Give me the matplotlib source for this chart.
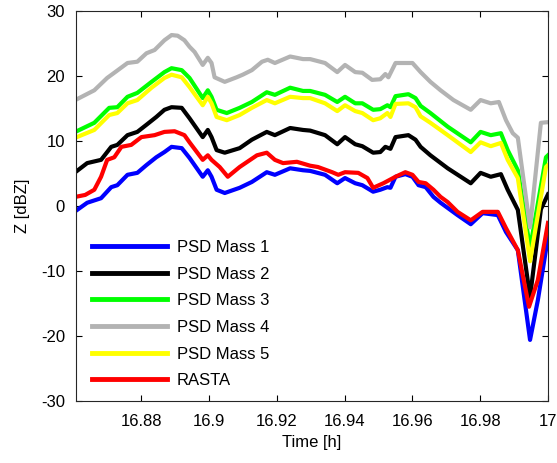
import matplotlib
matplotlib.use("Agg")
import matplotlib.pyplot as plt

plt.rcParams.update({
    "font.family": ["Liberation Sans", "DejaVu Sans"],
    "font.size": 12,
    "axes.unicode_minus": False,
    "xtick.direction": "in",
    "ytick.direction": "in",
    "xtick.top": True,
    "ytick.right": True,
    "xtick.major.size": 4,
    "ytick.major.size": 4,
    "axes.linewidth": 0.8,
})

# ---- data ----
t_gray = [16.8605, 16.8661, 16.8699, 16.8720, 16.8759, 16.8788, 16.8815, 16.8839,
          16.8868, 16.8889, 16.8907, 16.8927, 16.8942, 16.8957, 16.8981, 16.8996,
          16.9007, 16.9016, 16.9046, 16.9081, 16.9099, 16.9126, 16.9156, 16.9173,
          16.9194, 16.9239, 16.9277, 16.9298, 16.9342, 16.9378, 16.9401, 16.9431,
          16.9452, 16.9481, 16.9505, 16.9520, 16.9529, 16.9550, 16.9579, 16.9600,
          16.9624, 16.9653, 16.9683, 16.9721, 16.9772, 16.9801, 16.9831, 16.9855,
          16.9876, 16.9896, 16.9911, 16.9947, 16.9979, 17.0]
z_mass4 = [16.3, 17.8, 19.7, 20.5, 22.0, 22.2, 23.5, 24.0,
           25.5, 26.3, 26.2, 25.5, 24.5, 23.7, 21.7, 22.8,
           22.0, 19.8, 19.1, 19.8, 20.2, 20.9, 22.2, 22.5,
           22.0, 23.0, 22.6, 22.6, 22.0, 20.6, 21.7, 20.6,
           20.5, 19.4, 19.5, 20.3, 19.8, 22.0, 22.0, 22.0,
           20.6, 19.1, 17.8, 16.3, 14.8, 16.3, 15.8, 16.0,
           13.2, 11.2, 10.5, -3.3, 12.8, 12.9]

t_green = [16.8605, 16.8661, 16.8705, 16.8729, 16.8759, 16.8788, 16.8830, 16.8868,
           16.8889, 16.8919, 16.8942, 16.8981, 16.8996, 16.9007, 16.9022, 16.9052,
           16.9090, 16.9126, 16.9170, 16.9194, 16.9239, 16.9277, 16.9298, 16.9342,
           16.9378, 16.9401, 16.9431, 16.9452, 16.9484, 16.9505, 16.9526, 16.9535,
           16.9550, 16.9588, 16.9609, 16.9624, 16.9653, 16.9704, 16.9772, 16.9801,
           16.9831, 16.9861, 16.9881, 16.9911, 16.9947, 16.9994, 17.0]
z_mass3 = [11.4, 12.8, 15.1, 15.2, 16.8, 17.4, 19.1, 20.6,
           21.2, 20.9, 19.7, 16.6, 17.8, 16.8, 14.8, 14.3,
           15.1, 16.0, 17.5, 17.1, 18.2, 17.7, 17.7, 17.1,
           16.0, 16.8, 15.8, 15.8, 14.8, 14.9, 15.5, 15.2,
           16.9, 17.2, 16.6, 15.4, 14.3, 12.2, 9.8, 11.4,
           10.9, 11.2, 8.6, 5.5, -6.5, 7.5, 7.8]

t_yellow = t_green
z_mass5 = [10.5, 11.7, 14.0, 14.3, 15.8, 16.3, 18.2, 19.7,
           20.2, 19.8, 18.3, 15.5, 16.8, 15.8, 13.7, 13.2,
           14.0, 15.1, 16.3, 15.8, 16.8, 16.6, 16.6, 15.8,
           14.6, 15.5, 14.6, 14.3, 13.2, 13.5, 14.3, 13.7,
           15.7, 15.8, 15.2, 13.8, 12.8, 10.9, 8.3, 9.8,
           9.2, 9.7, 7.1, 4.3, -8.5, 6.0, 6.3]

t_black = [16.8605, 16.8640, 16.8681, 16.8711, 16.8729, 16.8759, 16.8788, 16.8815,
           16.8844, 16.8868, 16.8889, 16.8919, 16.8942, 16.8981, 16.8996, 16.9007,
           16.9022, 16.9046, 16.9090, 16.9126, 16.9170, 16.9194, 16.9239, 16.9277,
           16.9298, 16.9342, 16.9378, 16.9401, 16.9431, 16.9452, 16.9484, 16.9505,
           16.9520, 16.9535, 16.9550, 16.9588, 16.9609, 16.9624, 16.9653, 16.9704,
           16.9772, 16.9801, 16.9831, 16.9861, 16.9881, 16.9911, 16.9947, 16.9979,
           17.0]
z_mass2 = [5.2, 6.6, 7.1, 9.1, 9.4, 10.9, 11.4, 12.5,
           13.7, 14.8, 15.2, 15.1, 13.5, 10.6, 11.7, 10.6,
           8.6, 8.2, 8.9, 10.2, 11.4, 10.9, 12.0, 11.7,
           11.6, 10.9, 9.5, 10.6, 9.5, 9.2, 8.2, 8.3,
           9.1, 8.8, 10.6, 10.9, 10.2, 9.1, 7.8, 5.8,
           3.5, 5.1, 4.5, 4.9, 2.5, -0.6, -14.0, -0.5,
           1.8]

t_red = [16.8605, 16.8634, 16.8661, 16.8681, 16.8699, 16.8720, 16.8741, 16.8770,
         16.8800, 16.8839, 16.8868, 16.8898, 16.8927, 16.8942, 16.8981, 16.8996,
         16.9007, 16.9031, 16.9055, 16.9090, 16.9141, 16.9170, 16.9194, 16.9218,
         16.9259, 16.9298, 16.9321, 16.9363, 16.9381, 16.9401, 16.9440, 16.9467,
         16.9484, 16.9514, 16.9550, 16.9579, 16.9600, 16.9618, 16.9639, 16.9662,
         16.9683, 16.9704, 16.9733, 16.9772, 16.9807, 16.9852, 16.9876, 16.9911,
         16.9944, 16.9970, 17.0]
z_rasta = [1.4, 1.7, 2.5, 4.5, 7.1, 7.5, 9.1, 9.4,
           10.6, 10.9, 11.4, 11.5, 10.9, 9.8, 7.1, 7.8,
           7.1, 6.0, 4.5, 6.0, 7.8, 8.2, 7.1, 6.6,
           6.8, 6.2, 6.0, 5.2, 4.8, 5.2, 5.1, 4.3,
           2.8, 3.5, 4.5, 5.2, 4.8, 3.7, 3.5, 2.5,
           1.4, 0.6, -0.9, -2.2, -0.9, -0.9, -3.4, -6.8,
           -15.5, -11.4, -2.6]

t_blue = [16.8605, 16.8640, 16.8681, 16.8711, 16.8729, 16.8759, 16.8788, 16.8815,
          16.8844, 16.8868, 16.8889, 16.8919, 16.8942, 16.8981, 16.8996, 16.9007,
          16.9022, 16.9046, 16.9090, 16.9126, 16.9170, 16.9194, 16.9239, 16.9277,
          16.9298, 16.9342, 16.9378, 16.9401, 16.9431, 16.9452, 16.9484, 16.9505,
          16.9526, 16.9535, 16.9550, 16.9579, 16.9600, 16.9618, 16.9639, 16.9662,
          16.9683, 16.9733, 16.9772, 16.9807, 16.9852, 16.9876, 16.9911, 16.9947,
          16.9970, 17.0]
z_mass1 = [-0.8, 0.5, 1.2, 2.9, 3.2, 4.8, 5.1, 6.3,
           7.5, 8.3, 9.1, 8.9, 7.4, 4.5, 5.5, 4.5,
           2.5, 2.0, 2.8, 3.7, 5.2, 4.8, 5.8, 5.5,
           5.4, 4.8, 3.5, 4.3, 3.5, 3.2, 2.2, 2.5,
           2.9, 2.8, 4.5, 4.9, 4.5, 3.2, 2.9, 1.4,
           0.5, -1.4, -2.8, -1.1, -1.4, -4.0, -6.8, -20.6,
           -14.5, -4.8]

x_ticks = [16.88, 16.9, 16.92, 16.94, 16.96, 16.98, 17.0]
x_tick_labels = ["16.88", "16.9", "16.92", "16.94", "16.96", "16.98", "17"]
y_ticks = [-30, -20, -10, 0, 10, 20, 30]

# ---- plot ----
fig = plt.figure(figsize=(5.57, 4.63), dpi=100)
ax = fig.add_axes([76 / 557, 1 - 401 / 463, 472 / 557, 390 / 463])

lw = 3.0
ax.plot(t_blue, z_mass1, color="#0000ff", lw=lw, label="PSD Mass 1")
ax.plot(t_black, z_mass2, color="#000000", lw=lw, label="PSD Mass 2")
ax.plot(t_green, z_mass3, color="#00ff00", lw=lw, label="PSD Mass 3")
ax.plot(t_gray, z_mass4, color="#b3b3b3", lw=lw, label="PSD Mass 4")
ax.plot(t_yellow, z_mass5, color="#ffff00", lw=lw, label="PSD Mass 5")
ax.plot(t_red, z_rasta, color="#ff0000", lw=lw, label="RASTA")

ax.set_xlim(16.8607, 17.0)
ax.set_ylim(-30, 30)
ax.set_xticks(x_ticks)
ax.set_xticklabels(x_tick_labels)
ax.set_yticks(y_ticks)
ax.tick_params(axis="x", labelsize=12, pad=9)
ax.tick_params(axis="y", labelsize=12, pad=8)
for s in ax.spines.values():
    s.set_color("#262626")

ax.set_xlabel("Time [h]", fontsize=12, labelpad=5)
ax.set_ylabel("Z [dBZ]", fontsize=12, labelpad=8)

leg = ax.legend(loc="upper left", bbox_to_anchor=(0.02, 0.43), frameon=False,
                fontsize=12, handlelength=4.5, handletextpad=0.6,
                labelspacing=0.7, borderaxespad=0)
for h in leg.get_lines():
    h.set_linewidth(3.5)

fig.savefig("out.png", dpi=100)
